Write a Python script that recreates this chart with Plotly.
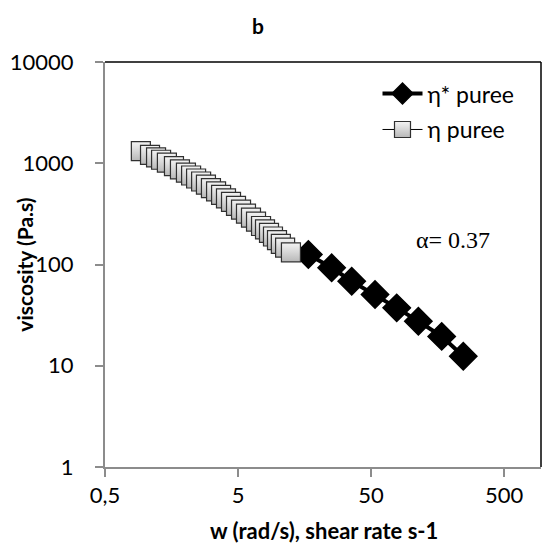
import plotly.graph_objects as go

# eta* puree (oscillatory, angular frequency)
w_star = [16.9, 25.3, 35.8, 53.6, 78.0, 113.5, 170.0, 247.0]
eta_star = [125.6, 92.8, 68.4, 50.5, 37.3, 27.5, 19.5, 12.4]

# eta puree (steady shear)
shear = [0.93, 1.09, 1.21, 1.32, 1.46, 1.65, 1.83, 2.03, 2.22, 2.42,
         2.64, 2.87, 3.13, 3.42, 3.73, 4.06, 4.43, 4.83, 5.27, 5.74,
         6.26, 6.83, 7.45, 7.98, 8.55, 9.16, 9.82, 10.5, 11.3, 12.5]
eta = [1315, 1211, 1141, 1083, 1014, 936, 870, 807, 757, 707,
       660, 614, 569, 528, 488, 450, 415, 380, 349, 318,
       291, 265, 240, 222, 205, 189, 174, 160, 147, 132]

x_ticks = [0.5, 5, 50, 500]
x_ticktext = ["0,5", "5", "50", "500"]
y_ticks = [1, 10, 100, 1000, 10000]
y_ticktext = ["1", "10", "100", "1000", "10000"]

FONT = "Lato"
AX = "#8c8c8c"

fig = go.Figure()
fig.add_trace(go.Scatter(
    x=w_star, y=eta_star, mode="lines+markers", name="η* puree",
    line=dict(color="black", width=4),
    marker=dict(symbol="diamond", size=21, color="black",
                line=dict(color="black", width=1.5)),
    legendgroup="a", legendrank=1,
))
fig.add_trace(go.Scatter(
    x=shear, y=eta, mode="lines+markers", name="η puree",
    line=dict(color="black", width=1),
    marker=dict(symbol="square", size=19, color="#f4f4f4",
                gradient=dict(type="vertical", color="#b8b8b8"),
                line=dict(color="#303030", width=1.2)),
    legendgroup="b", legendrank=2,
))

fig.update_layout(
    width=555, height=551,
    margin=dict(l=105, r=14, t=62, b=84),
    paper_bgcolor="white", plot_bgcolor="white",
    font=dict(family=FONT, color="black"),
    title=dict(text="<b>b</b>", x=0.465, xanchor="center", y=0.952,
               yanchor="middle", font=dict(size=21, family=FONT)),
    showlegend=True,
    legend=dict(x=0.625, y=0.975, xanchor="left", yanchor="top",
                bgcolor="rgba(0,0,0,0)", font=dict(size=23, family=FONT),
                traceorder="grouped", tracegroupgap=3, itemwidth=40),
    annotations=[
        dict(text="α= 0.37", x=0.798, y=0.56, xref="paper", yref="paper",
             xanchor="center", yanchor="middle",
             showarrow=False, font=dict(family="Liberation Serif", size=24)),
        dict(text="<b>viscosity (Pa.s)</b>", x=-0.184, y=0.499, xref="paper", yref="paper",
             xanchor="center", yanchor="middle",
             textangle=-90, showarrow=False, font=dict(family=FONT, size=21)),
        dict(text="<b>w (rad/s), shear rate s-1</b>", x=0.502, y=-0.158, xref="paper", yref="paper",
             xanchor="center", yanchor="middle",
             showarrow=False, font=dict(family=FONT, size=22)),
    ],
    shapes=[
        dict(type="line", xref="paper", yref="paper", x0=0, x1=1, y0=1, y1=1,
             line=dict(color="black", width=1.5)),
        dict(type="line", xref="paper", yref="paper", x0=1, x1=1, y0=0, y1=1,
             line=dict(color="black", width=1.5)),
    ],
)

fig.update_xaxes(
    type="log", range=[-0.30103, 2.977], tickvals=x_ticks, ticktext=x_ticktext,
    showgrid=False, zeroline=False, showline=True, linecolor=AX, linewidth=2,
    ticks="outside", ticklen=8, tickcolor=AX, tickwidth=2, automargin=False,
    tickfont=dict(size=22, family=FONT), ticklabelstandoff=0,
)
fig.update_yaxes(
    type="log", range=[0, 4], tickvals=y_ticks, ticktext=y_ticktext,
    showgrid=False, zeroline=False, showline=True, linecolor=AX, linewidth=2,
    ticks="outside", ticklen=8, tickcolor=AX, tickwidth=2, automargin=False,
    tickfont=dict(size=22, family=FONT), ticklabelstandoff=17,
)

fig.write_html("out.html")
